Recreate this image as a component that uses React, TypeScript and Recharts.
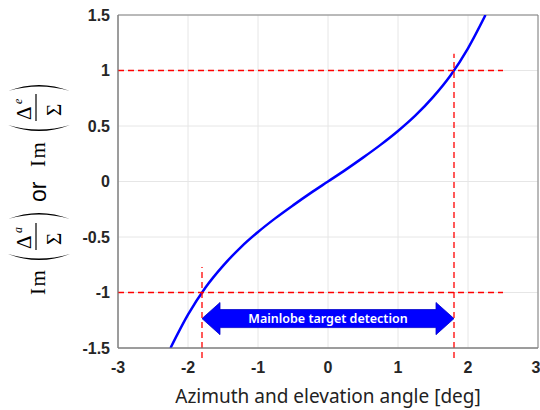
import React from 'react';
import {
  LineChart,
  Line,
  XAxis,
  YAxis,
  CartesianGrid,
  ReferenceLine,
  ReferenceArea,
} from 'recharts';

// angle [deg] and the discriminator output
const angles = [-2.25, -2.0, -1.75, -1.5, -1.25, -1.0, -0.75, -0.5, -0.25, 0, 0.25, 0.5, 0.75, 1.0, 1.25, 1.5, 1.75, 2.0, 2.25];
const imRatio = [-1.5, -1.2, -0.955, -0.76, -0.595, -0.455, -0.33, -0.215, -0.105, 0, 0.105, 0.215, 0.33, 0.455, 0.595, 0.76, 0.955, 1.2, 1.5];

const xTicks = [-3, -2, -1, 0, 1, 2, 3];
const yTicks = [-1.5, -1, -0.5, 0, 0.5, 1, 1.5];

// detection window and thresholds
const lobeEdge = 1.8;
const threshold = 1;
const hLineEnd = 2.5;
const leftVTop = -0.77;
const rightVTop = 1.15;
const vBottom = -1.59;
const arrowBand = [-1.38, -1.09];
const arrowText = 'Mainlobe target detection';

const data = angles.map((x, i) => ({ x, y: imRatio[i] }));

const serif = "'Liberation Serif', 'DejaVu Serif', serif";
const sans = "'Liberation Sans', Arial, sans-serif";
const red = '#ff0000';

const OpenParen = ({ u }: { u: number }) => (
  <path d={`M${u + 8},-31 Q${u - 4},0 ${u + 8},31 Q${u - 1},0 ${u + 8},-31 Z`} fill="#000" />
);
const CloseParen = ({ u }: { u: number }) => (
  <path d={`M${u},-31 Q${u + 12},0 ${u},31 Q${u + 9},0 ${u},-31 Z`} fill="#000" />
);

const Fraction = ({ u, sub }: { u: number; sub: string }) => (
  <g fontFamily={serif} fill="#000">
    <text x={u + 1} y={-8} fontSize={21}>Δ</text>
    <text x={u + 17} y={-17} fontSize={12} fontStyle="italic">{sub}</text>
    <line x1={u} x2={u + 27} y1={-3} y2={-3} stroke="#000" strokeWidth={1.2} />
    <text x={u + 5} y={22} fontSize={21}>Σ</text>
  </g>
);

const YLabel = () => (
  <g transform="translate(39,295) rotate(-90)">
    <text x={0} y={6} fontFamily={serif} fontSize={21} letterSpacing={1.5} fill="#000">Im</text>
    <OpenParen u={33} />
    <Fraction u={45} sub="a" />
    <CloseParen u={76} />
    <text x={93} y={7} fontFamily={sans} fontSize={23} fill="#000">or</text>
    <text x={128} y={6} fontFamily={serif} fontSize={21} letterSpacing={1.5} fill="#000">Im</text>
    <OpenParen u={162} />
    <Fraction u={174} sub="e" />
    <CloseParen u={204} />
  </g>
);

const ArrowShape = (props: any) => {
  const { x, y, width, height } = props;
  const cy = y + height / 2;
  const head = 18;
  const half = (height * 0.56) / 2;
  const pts = [
    [x, cy],
    [x + head, y],
    [x + head, cy - half],
    [x + width - head, cy - half],
    [x + width - head, y],
    [x + width, cy],
    [x + width - head, y + height],
    [x + width - head, cy + half],
    [x + head, cy + half],
    [x + head, y + height],
  ]
    .map((p) => p.join(','))
    .join(' ');
  return (
    <g>
      <polygon points={pts} fill="#0000ff" stroke="#0000cc" strokeWidth={0.8} />
      <text
        x={x + width / 2}
        y={cy + 4.5}
        textAnchor="middle"
        fill="#fff"
        fontFamily="'Noto Sans', 'Open Sans', sans-serif"
        fontWeight={600}
        fontSize={12.5}
      >
        {arrowText}
      </text>
    </g>
  );
};

const tickStyle = { fontFamily: sans, fontWeight: 700, fontSize: 16, fill: '#262626' };

export default function App() {
  return (
    <div style={{ position: 'absolute', left: 0, top: 0, width: 540, height: 410, background: '#fff' }}>
      <LineChart width={540} height={410} data={data} margin={{ top: 15, right: 2, left: 0, bottom: 0 }}>
        <CartesianGrid stroke="#e6e6e6" strokeWidth={1} />
        <XAxis
          type="number"
          dataKey="x"
          domain={[-3, 3]}
          ticks={xTicks}
          allowDataOverflow
          height={62}
          tickLine={false}
          tickMargin={8}
          stroke="#808080"
          tick={tickStyle}
          label={{
            value: 'Azimuth and elevation angle [deg]',
            position: 'insideBottom',
            offset: 7,
            fontFamily: "'Noto Sans', 'Open Sans', sans-serif",
            fontSize: 19,
            fill: '#222',
          }}
        />
        <YAxis
          type="number"
          domain={[-1.5, 1.5]}
          ticks={yTicks}
          allowDataOverflow
          width={118}
          tickLine={false}
          stroke="#808080"
          tick={tickStyle}
          label={<YLabel />}
        />
        <ReferenceArea x1={-3} x2={3} y1={-1.5} y2={1.5} fill="none" stroke="#808080" strokeWidth={1} />
        <Line
          type="monotone"
          dataKey="y"
          stroke="#0000ff"
          strokeWidth={2.5}
          dot={false}
          isAnimationActive={false}
        />
        <ReferenceLine
          segment={[{ x: -3, y: threshold }, { x: hLineEnd, y: threshold }]}
          stroke={red}
          strokeWidth={1.3}
          strokeDasharray="6 4"
          ifOverflow="visible"
        />
        <ReferenceLine
          segment={[{ x: -3, y: -threshold }, { x: hLineEnd, y: -threshold }]}
          stroke={red}
          strokeWidth={1.3}
          strokeDasharray="6 4"
          ifOverflow="visible"
        />
        <ReferenceLine
          segment={[{ x: -lobeEdge, y: vBottom }, { x: -lobeEdge, y: leftVTop }]}
          stroke={red}
          strokeWidth={1.3}
          strokeDasharray="6 4"
          ifOverflow="visible"
        />
        <ReferenceLine
          segment={[{ x: lobeEdge, y: vBottom }, { x: lobeEdge, y: rightVTop }]}
          stroke={red}
          strokeWidth={1.3}
          strokeDasharray="6 4"
          ifOverflow="visible"
        />
        <ReferenceArea
          x1={-lobeEdge}
          x2={lobeEdge}
          y1={arrowBand[0]}
          y2={arrowBand[1]}
          shape={ArrowShape}
          ifOverflow="visible"
        />
      </LineChart>
    </div>
  );
}
